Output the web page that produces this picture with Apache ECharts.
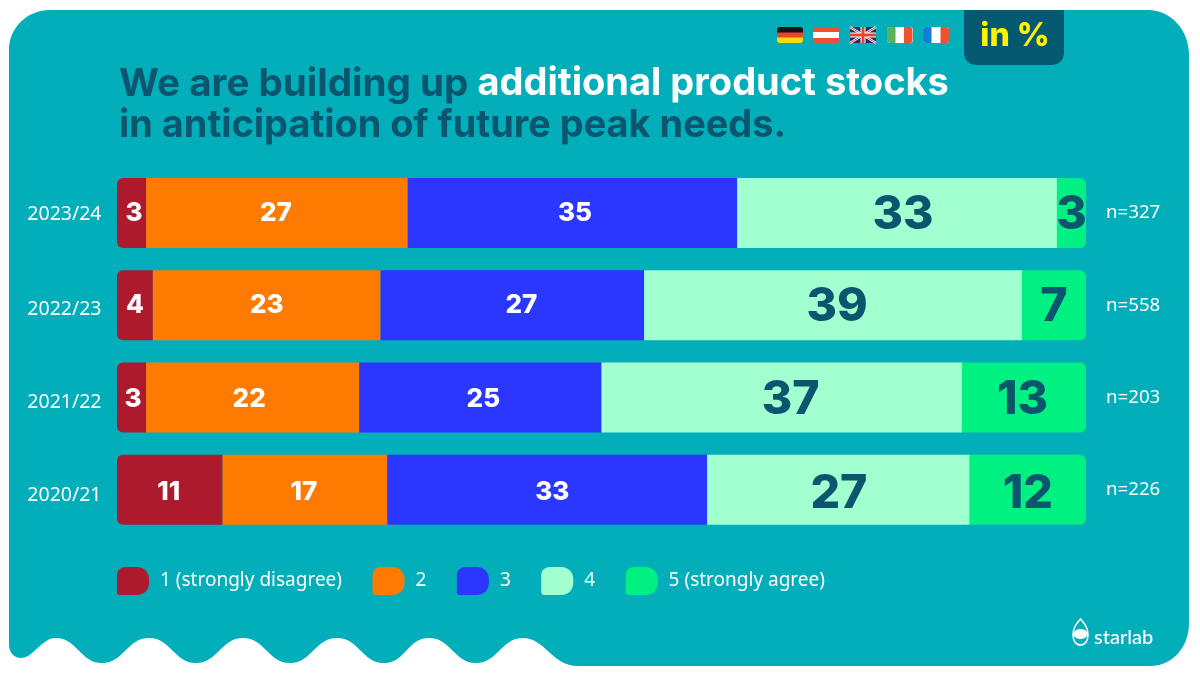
<!DOCTYPE html>
<html><head><meta charset="utf-8">
<style>html,body{margin:0;padding:0;background:#fff}#c{width:1200px;height:675px}</style>
<script src="https://cdn.jsdelivr.net/npm/echarts@6/dist/echarts.min.js"></script>
</head><body><div id="c"></div>
<script>
const categories = ['2023/24','2022/23','2021/22','2020/21'];
const sampleSizes = ['n=327','n=558','n=203','n=226'];
const seriesNames = ['1 (strongly disagree)','2','3','4','5 (strongly agree)'];
// bar lengths (share of the full bar)
const strongDisagree = [3.0,3.7,3.0,10.9];
const level2 = [27.0,23.5,22.0,17.0];
const level3 = [34.0,27.2,25.0,33.0];
const level4 = [33.0,39.0,37.2,27.1];
const strongAgree = [3.0,6.6,12.8,12.0];
// numbers printed on the bars
const printed1 = [3,4,3,11];
const printed2 = [27,23,22,17];
const printed3 = [35,27,25,33];
const printed4 = [33,39,37,27];
const printed5 = [3,7,13,12];

const colors = ['#AD1A2E','#FF7A00','#2B37FF','#A2FFCF','#00F082'];
const DARK = '#0B566E', TEAL = '#01AEB9';
const FONT = 'Inter, Lato, sans-serif';
const BODY = '"Noto Sans", "Open Sans", sans-serif';
const values = [strongDisagree, level2, level3, level4, strongAgree];
const printed = [printed1, printed2, printed3, printed4, printed5];

// typesetting nudges (px), separate from the data
const nudgeX = [[2.5,0,1.5,-1],[-1,0,-3.5,-1],[2.5,9,3,5],[6,4,9,0.5],[0,0,-1.5,0]];
const nudgeYWhite = [0,0,2,2], nudgeYDark = [2,2,3,4];
const catNudgeY = [1,4,5,6];

const radiusFor = i => i === 0 ? [6,0,0,6] : i === 4 ? [0,6,6,0] : 0;
const legendIcon = 'path://M0 8 C0 3 4 0 9 0 L20 0 C27 0 32 5 32 12 L32 16 C32 23 27 28 20 28 L3 28 C1 28 0 27 0 25 Z';

const chart = echarts.init(document.getElementById('c'), null, {renderer:'canvas'});

// Panel outline with the wavy lower-left edge
const crests = [523,429,337,243,149,55.5];
const troughs = [476,384,290,196,102];
let wave = 'M9 50 C9 28 27 10 50 10 L1148 10 C1171 10 1189 30 1189 55 L1189 623 C1189 648 1172 666 1150 666 L578 666 C552 666 545 638 523 638 ';
troughs.forEach((t,k)=>{
  const c = crests[k+1];
  wave += `C${crests[k]-22} 638 ${t+22} 663 ${t} 663 C${t-22} 663 ${c+22} 638 ${c} 638 `;
});
wave += 'C42 638 33 658 21 658 C14 658 9 652 9 645 Z';
const panelPath = wave;
const badgePath = 'M964 10 L1064 10 L1064 52 C1064 60 1059 65 1051 65 L977 65 C969 65 964 60 964 52 Z';
const dropPath = 'M1080.5 619 C1076 624 1073 628 1073 635 C1073 641 1076 645 1080.5 645 C1085 645 1088 641 1088 635 C1088 628 1085 624 1080.5 619 Z';
function regPath(name, d){ echarts.graphic.registerShape(name, echarts.graphic.extendPath(d, {})); }
regPath('panelShape', panelPath); regPath('badgeShape', badgePath); regPath('dropShape', dropPath);

function flagBase(x, color){ return {type:'rect', shape:{x:x,y:27,width:26,height:16,r:3}, style:{fill:color}, z:5}; }
function stripH(x,y,h,color,r){ return {type:'rect', shape:{x:x,y:y,width:26,height:h,r:r||0}, style:{fill:color}, z:6}; }
function stripV(x,w,color,r){ return {type:'rect', shape:{x:x,y:27,width:w,height:16,r:r||0}, style:{fill:color}, z:6}; }
function ln(x1,y1,x2,y2,w,color){ return {type:'line', shape:{x1,y1,x2,y2}, style:{stroke:color,lineWidth:w}, z:7}; }

const flags = [
  flagBase(777,'#E9452E'), stripH(777,27,5.5,'#141414',[3,3,0,0]), stripH(777,37.5,5.5,'#F7DD0B',[0,0,3,3]),
  flagBase(813,'#F0502F'), stripH(813,32,6,'#FFFFFF'),
  flagBase(850,'#1F2E6E'), ln(850,27,876,43,2.4,'#fff'), ln(876,27,850,43,2.4,'#fff'),
  ln(850,27,876,43,1,'#E9452E'), ln(876,27,850,43,1,'#E9452E'),
  ln(863,27,863,43,5,'#fff'), ln(850,35,876,35,5,'#fff'), ln(863,27,863,43,3,'#E9452E'), ln(850,35,876,35,3,'#E9452E'),
  flagBase(887,'#FFFFFF'), stripV(887,8.5,'#5BB15A',[3,0,0,3]), stripV(904,8.5,'#F0502F',[0,3,3,0]),
  flagBase(923,'#FFFFFF'), stripV(923,8.5,'#0E80DC',[3,0,0,3]), stripV(940.5,8.5,'#F0502F',[0,3,3,0])
];

const logo = [
  {type:'dropShape', style:{fill:'none',stroke:'#fff',lineWidth:1.6}, z:5},
  {type:'ellipse', shape:{cx:1080.5,cy:634,rx:7,ry:5}, style:{fill:'#fff'}, z:5},
  {type:'text', x:1094, y:638, style:{text:'starlab',fill:'#fff',font:'500 20px "Lato", sans-serif',textVerticalAlign:'middle'}, z:5}
];

const catRich = {};
catNudgeY.forEach((n,i)=>{ catRich['r'+i] = {color:'#fff',fontFamily:BODY,fontSize:19.5,padding:[n*2,0,0,0]}; });

const option = {
  animation:false,
  backgroundColor:'#fff',
  title:{
    left:119, top:63, padding:0, itemGap:0,
    text:'{a|We are building up }{w|additional product stocks}\n{d|in anticipation of future peak needs.}',
    textStyle:{ lineHeight:42, rich:{
      a:{fontFamily:FONT,fontWeight:700,fontSize:38.6,color:DARK,lineHeight:42},
      w:{fontFamily:FONT,fontWeight:700,fontSize:38,color:'#fff',lineHeight:42},
      d:{fontFamily:FONT,fontWeight:700,fontSize:37.9,color:DARK,lineHeight:42}
    }}
  },
  legend:{
    left:117, top:567, padding:0, itemWidth:32, itemHeight:28, itemGap:30.5, icon:legendIcon,
    data:seriesNames, selectedMode:false,
    textStyle:{fontFamily:BODY,fontSize:19,color:'#fff',padding:[8,0,0,6]}
  },
  grid:{left:117, right:114, top:167, bottom:139.2, containLabel:false},
  xAxis:{type:'value',min:0,max:100,show:false},
  yAxis:[
    {type:'category',inverse:true,data:categories,
     axisLine:{show:false},axisTick:{show:false},
     axisLabel:{color:'#fff',fontFamily:BODY,fontSize:19.5,margin:15.5,rich:catRich,
       formatter:(v,i)=>`{r${i}|${v}}`}},
    {type:'category',inverse:true,position:'right',data:sampleSizes,axisLine:{show:false},axisTick:{show:false},
     axisLabel:{color:'#fff',fontFamily:BODY,fontSize:18.7,margin:20,align:'left'}}
  ],
  graphic:[
    {type:'panelShape', style:{fill:TEAL}, z:-10, silent:true},
    {type:'badgeShape', style:{fill:'#04586F'}, z:5},
    {type:'text', x:1015, y:36.5, style:{text:'in %',fill:'#FFF200',font:'800 32px '+FONT,textAlign:'center',textVerticalAlign:'middle'}, z:6},
    ...flags, ...logo
  ],
  series: seriesNames.map((name,i)=>({
    name, type:'bar', stack:'total', yAxisIndex:0, barWidth:70,
    itemStyle:{color:colors[i]},
    label:{show:true,position:'inside',
      color: i>=3 ? DARK : '#fff',
      fontFamily:FONT, fontWeight:800, fontSize: i>=3 ? 46.5 : 26,
      formatter:p=>String(printed[i][p.dataIndex])},
    data: values[i].map((v,r)=>({value:v,itemStyle:{borderRadius:radiusFor(i)},
      label:{offset:[nudgeX[i][r],(i>=3?nudgeYDark:nudgeYWhite)[r]]}}))
  }))
};
chart.setOption(option);
</script></body></html>
